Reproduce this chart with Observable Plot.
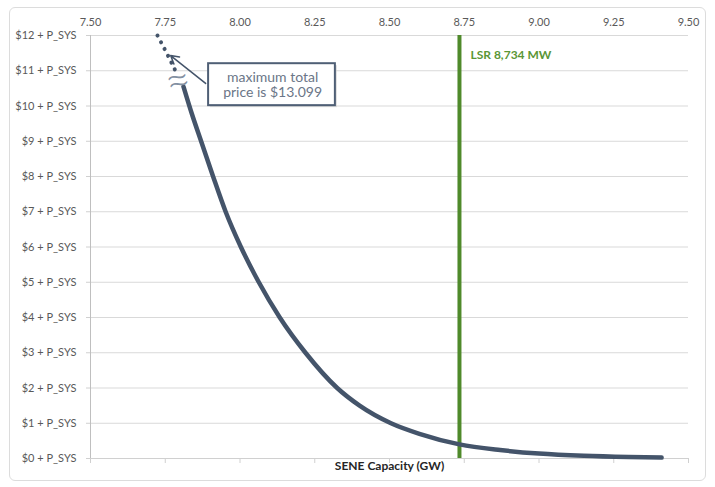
<!DOCTYPE html>
<html><head><meta charset="utf-8">
<script src="https://cdn.jsdelivr.net/npm/d3@7"></script>
<script src="https://cdn.jsdelivr.net/npm/@observablehq/plot@0.6"></script>
<style>
body{margin:0;background:#fff;}
#wrap{position:relative;width:715px;height:487px;}
#frame{position:absolute;left:9px;top:7px;width:697px;height:474px;border:1.5px solid #dcdcdc;border-radius:6px;box-sizing:border-box;pointer-events:none}
#wrap svg{position:absolute;left:0;top:0}
</style></head><body><div id="wrap"><div id="frame"></div></div>
<script>
// ---- data ----
const xTicks = [7.50, 7.75, 8.00, 8.25, 8.50, 8.75, 9.00, 9.25, 9.50];
const yTicks = [0, 1, 2, 3, 4, 5, 6, 7, 8, 9, 10, 11, 12];
const capacityDotted = [7.724, 7.755, 7.784];
const priceDotted    = [12.0, 11.5, 11.0];
const capacitySolid = [7.811, 7.84, 7.87, 7.91, 7.952, 8.003, 8.063, 8.133, 8.219, 8.325, 8.40, 8.505, 8.60, 8.734, 8.87, 9.00, 9.15, 9.30, 9.41];
const priceSolid    = [10.55, 9.75, 9.0, 8.0, 7.0, 6.0, 5.0, 4.0, 3.0, 2.0, 1.5, 1.0, 0.70, 0.40, 0.24, 0.14, 0.075, 0.04, 0.025];
const lsrCapacity = [8.734];
const lsrLabel = ["LSR 8,734 MW"];
const calloutText = ["maximum total\nprice is $13.099"];
const xLabel = "SENE Capacity (GW)";

const dotted = capacityDotted.map((x, i) => ({x, y: priceDotted[i]}));
const solid = capacitySolid.map((x, i) => ({x, y: priceSolid[i]}));

const font = "Lato, 'Open Sans', sans-serif";
const curveColor = "#44546a";
const green = "#4f8a2b";

const box = [{x1: 7.895, x2: 8.319, y1: 10.01, y2: 11.2}];

const chart = Plot.plot({
  width: 715,
  height: 487,
  marginLeft: 90,
  marginRight: 27,
  marginTop: 35,
  marginBottom: 29,
  style: {fontFamily: font, fontSize: "11px", color: "#595959", background: "transparent"},
  x: {domain: [7.5, 9.5]},
  y: {domain: [0, 12]},
  marks: [
    Plot.gridY(yTicks, {stroke: "#d9d9d9", strokeOpacity: 1, strokeWidth: 1}),
    Plot.ruleX([7.5], {stroke: "#bfbfbf", strokeWidth: 1}),
    Plot.ruleY([0], {stroke: "#d0d0d0", strokeWidth: 1}),
    Plot.axisX(xTicks, {anchor: "top", tickSize: 0, tickPadding: 10, tickFormat: d3.format(".2f"), label: null, fill: "#595959"}),
    Plot.axisX(xTicks, {anchor: "bottom", tickSize: 5, tickFormat: () => "", label: null, stroke: "#d0d0d0"}),
    Plot.axisY(yTicks, {anchor: "left", tickSize: 4, tickPadding: 10, tickFormat: d => `$${d} + P_SYS`, label: null, stroke: "#d0d0d0", fill: "#595959"}),
    Plot.ruleX(lsrCapacity, {y1: 0, y2: 12, stroke: green, strokeWidth: 4}),
    Plot.text(lsrLabel, {x: lsrCapacity[0], y: 11.43, text: d => d, textAnchor: "start", dx: 11, fill: "#5a9636", fontWeight: "bold", fontSize: 12}),
    Plot.line(solid, {x: "x", y: "y", curve: "monotone-x", stroke: curveColor, strokeWidth: 4.5, strokeLinecap: "round"}),
    Plot.line(dotted, {x: "x", y: "y", curve: "linear", stroke: curveColor, strokeWidth: 4, strokeDasharray: "0.1 7.5", strokeLinecap: "round"}),
    Plot.text(["≈"], {x: 7.793, y: 10.7, text: d => d, rotate: -15, fontSize: 46, fill: "#8390a2", fontWeight: 300}),
    Plot.rect(box, {x1: "x1", x2: "x2", y1: "y1", y2: "y2", fill: "#c8c8c8", dx: 2, dy: 2, fillOpacity: 0.6}),
    Plot.rect(box, {x1: "x1", x2: "x2", y1: "y1", y2: "y2", fill: "white", stroke: "#4f5f75", strokeWidth: 2}),
    Plot.text(calloutText, {x: 8.109, y: 10.6, text: d => d, fontSize: 14, fill: "#6b7687", lineHeight: 1.1}),
    Plot.arrow([{x1: 7.885, y1: 10.64, x2: 7.768, y2: 11.43}], {x1: "x1", y1: "y1", x2: "x2", y2: "y2", stroke: curveColor, strokeWidth: 1.5, headLength: 9, bend: 0}),
    Plot.text([xLabel], {frameAnchor: "bottom", dy: 11, text: d => d, fontWeight: "bold", fontSize: 12, fill: "#262626"})
  ]
});
document.getElementById("wrap").appendChild(chart);
</script></body></html>
